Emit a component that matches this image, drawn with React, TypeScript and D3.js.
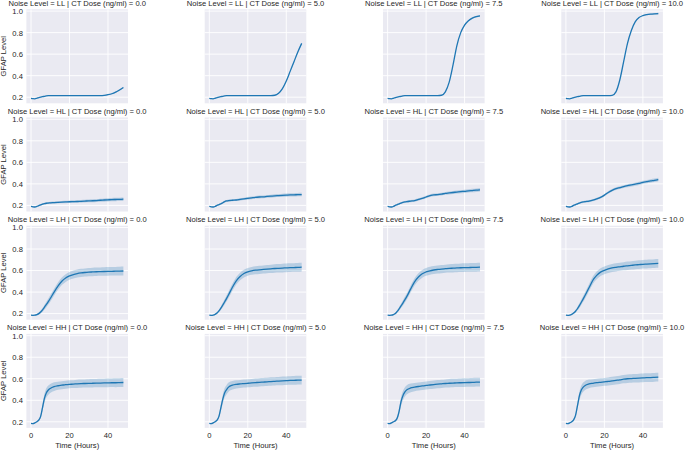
import React from "react";
import * as d3 from "d3";

const TIMES = [0,1,2,3,4,5,6,7,8,9,10,12,14,16,18,20,22,24,26,28,30,32,34,36,38,40,42,44,46,48];
const NOISE_LEVELS = ["LL", "HL", "LH", "HH"];
const DOSES = ["0.0", "5.0", "7.5", "10.0"];
const X_TICKS = [0, 20, 40];
const Y_TICKS = [0.2, 0.4, 0.6, 0.8, 1.0];

const LL_0 = [0.19,0.186,0.185,0.19,0.196,0.201,0.205,0.208,0.212,0.214,0.215, .215,.215,.215,.215,.215,.215,.215,.215,.215,.215,.215,.215,.215,.217,.223,.232,.247,.267,.29];
const LL_5 = [0.19,0.186,0.185,0.19,0.196,0.201,0.205,0.208,0.212,0.214,0.215, .215,.215,.215,.215,.215,.215,.215,.215,.215,.215,.215,.218,.237,.28,.35,.44,.53,.62,.70];
const LL_75 = [0.19,0.186,0.185,0.19,0.196,0.201,0.205,0.208,0.212,0.214,0.215, .215,.215,.215,.215,.215,.215,.215,.215,.218,.25,.34,.50,.68,.80,.87,.91,.935,.948,.955];
const LL_10 = [0.19,0.186,0.185,0.19,0.196,0.201,0.205,0.208,0.212,0.214,0.215, .215,.215,.215,.215,.215,.215,.217,.25,.36,.53,.70,.82,.90,.94,.958,.967,.972,.975,.977];

const HL_0 = [0.19,0.186,0.185,0.19,0.198,0.205,0.212,0.217,0.22,0.222,0.224, .226,.228,.23,.232,.234,.235,.236,.238,.24,.242,.243,.245,.248,.25,.252,.254,.255,.256,.258];
const HL_5 = [0.19,0.186,0.185,0.19,0.2,0.207,0.215,0.225,0.235,0.241,0.245, .248,.25,.255,.26,.265,.27,.275,.278,.28,.283,.286,.289,.291,.293,.295,.297,.298,.3,.301];
const HL_75 = [0.19,0.186,0.185,0.19,0.2,0.207,0.215,0.222,0.228,0.232,0.235, .24,.245,.255,.265,.278,.29,.298,.3,.305,.312,.316,.32,.324,.328,.331,.335,.338,.341,.345];
const HL_10 = [0.19,0.186,0.185,0.19,0.2,0.207,0.215,0.222,0.228,0.232,0.235, .24,.248,.26,.275,.295,.32,.34,.355,.365,.375,.383,.39,.397,.405,.413,.42,.427,.433,.44];

const LH_0 = [0.185,0.184,0.185,0.19,0.2,0.215,0.235,0.26,0.285,0.312,0.34, .4,.455,.5,.53,.55,.563,.572,.578,.582,.585,.587,.589,.59,.591,.592,.593,.594,.595,.596];
const LH_5 = [0.185,0.184,0.186,0.193,0.205,0.225,0.25,0.28,0.31,0.342,0.375, .445,.505,.545,.572,.588,.597,.603,.607,.61,.613,.616,.619,.621,.623,.625,.627,.628,.629,.631];
const LH_75 = [0.185,0.184,0.185,0.19,0.2,0.22,0.245,0.272,0.3,0.33,0.36, .43,.495,.54,.57,.587,.598,.605,.61,.614,.617,.62,.622,.624,.626,.627,.628,.629,.63,.631];
const LH_10 = [0.185,0.184,0.186,0.193,0.205,0.222,0.245,0.274,0.305,0.337,0.37, .44,.51,.555,.585,.602,.615,.624,.63,.635,.64,.644,.648,.652,.655,.658,.66,.662,.664,.666];

const HH_0 = [0.185,0.183,0.19,0.2,0.215,0.25,0.335,0.42,0.47,0.495,0.51, .527,.535,.54,.545,.548,.55,.553,.555,.556,.557,.558,.559,.56,.561,.562,.563,.563,.564,.565];
const HH_5 = [0.185,0.183,0.19,0.2,0.215,0.25,0.33,0.41,0.47,0.5,0.522, .54,.548,.552,.555,.558,.561,.564,.567,.569,.571,.574,.576,.578,.58,.582,.584,.585,.587,.588];
const HH_75 = [0.185,0.183,0.19,0.2,0.21,0.235,0.3,0.39,0.445,0.478,0.497, .515,.522,.528,.533,.538,.542,.546,.55,.553,.556,.558,.56,.562,.563,.564,.565,.566,.568,.569];
const HH_10 = [0.185,0.183,0.19,0.2,0.218,0.26,0.35,0.44,0.495,0.522,0.538, .552,.558,.563,.567,.571,.575,.58,.585,.59,.596,.6,.602,.604,.606,.608,.61,.611,.613,.615];

const LL_CI = [.002,.002,.002,.002,.002,.002,.002,.002,.002,.002,.002, .002,.002,.002,.002,.002,.002,.002,.002,.002,.002,.002,.002,.002,.003,.004,.005,.006,.007,.008];
const HL_CI = [.003,.003,.004,.005,.006,.007,.008,.008,.009,.009,.01, .01,.01,.011,.011,.012,.012,.012,.013,.013,.013,.014,.014,.014,.015,.015,.015,.016,.016,.016];
const LH_CI = [.003,.003,.004,.006,.009,.013,.017,.021,.025,.028,.03, .032,.034,.035,.036,.036,.037,.037,.038,.038,.038,.039,.039,.039,.04,.04,.04,.04,.041,.041];
const HH_CI = [.003,.003,.004,.006,.01,.018,.03,.04,.043,.043,.042, .04,.038,.037,.037,.037,.037,.038,.038,.038,.038,.039,.039,.039,.04,.04,.04,.041,.041,.041];

const SERIES = [
  [LL_0, LL_5, LL_75, LL_10],
  [HL_0, HL_5, HL_75, HL_10],
  [LH_0, LH_5, LH_75, LH_10],
  [HH_0, HH_5, HH_75, HH_10],
];
const ROW_CI = [LL_CI, HL_CI, LH_CI, HH_CI];

const W = 685;
const H = 450;
const PLOT_W = 101.6;
const PLOT_H = 94;
const COL_STEP = 178.3;
const ROW_STEP = 108.2;
const LEFT0 = 26.4;
const TOP0 = 9.3;
const FONT = "'Liberation Sans', Arial, sans-serif";
const TEXT = "#262626";
const BLUE = "#1f77b4";
const FS = 7.6;

export default function App() {
  const allVals = SERIES.flat(2);
  const [mn, mx] = d3.extent(allVals) as [number, number];
  const pad = (mx - mn) * 0.05;
  const tPad = (48 - 0) * 0.05;

  const x = d3.scaleLinear().domain([0 - tPad, 48 + tPad]).range([0, PLOT_W]);
  const y = d3.scaleLinear().domain([mn - pad, mx + pad]).range([PLOT_H, 0]);

  const line = d3.line<number>().x((_, i) => x(TIMES[i])).y((v) => y(v)).curve(d3.curveMonotoneX);

  const panels: React.ReactNode[] = [];
  SERIES.forEach((row, r) => {
    row.forEach((vals, c) => {
      const ci = ROW_CI[r];
      const area = d3
        .area<number>()
        .x((_, i) => x(TIMES[i]))
        .y0((v, i) => y(v - ci[i]))
        .y1((v, i) => y(v + ci[i]))
        .curve(d3.curveMonotoneX);
      const left = LEFT0 + c * COL_STEP;
      const top = TOP0 + r * ROW_STEP;
      panels.push(
        <g key={`${r}-${c}`} transform={`translate(${left},${top})`}>
          <rect x={0} y={0} width={PLOT_W} height={PLOT_H} fill="#EAEAF2" />
          {X_TICKS.map((t) => (
            <line key={`gx${t}`} x1={x(t)} x2={x(t)} y1={0} y2={PLOT_H} stroke="#fff" strokeWidth={0.9} />
          ))}
          {Y_TICKS.map((t) => (
            <line key={`gy${t}`} x1={0} x2={PLOT_W} y1={y(t)} y2={y(t)} stroke="#fff" strokeWidth={0.9} />
          ))}
          <path d={area(vals) || ""} fill={BLUE} fillOpacity={0.25} stroke="none" />
          <path d={line(vals) || ""} fill="none" stroke={BLUE} strokeWidth={1.3} />
          <text x={PLOT_W / 2} y={-3.6} textAnchor="middle" fontSize={FS} fill={TEXT} fontFamily={FONT}>
            {`Noise Level = ${NOISE_LEVELS[r]} | CT Dose (ng/ml) = ${DOSES[c]}`}
          </text>
          {c === 0 &&
            Y_TICKS.map((t) => (
              <text key={`ty${t}`} x={-3.5} y={y(t)} dy="0.38em" textAnchor="end" fontSize={FS} fill={TEXT} fontFamily={FONT}>
                {t.toFixed(1)}
              </text>
            ))}
          {c === 0 && (
            <text
              transform={`translate(${-20.5},${PLOT_H / 2}) rotate(-90)`}
              textAnchor="middle"
              fontSize={FS}
              fill={TEXT}
              fontFamily={FONT}
            >
              GFAP Level
            </text>
          )}
          {r === 3 &&
            X_TICKS.map((t) => (
              <text key={`tx${t}`} x={x(t)} y={PLOT_H + 10} textAnchor="middle" fontSize={FS} fill={TEXT} fontFamily={FONT}>
                {t}
              </text>
            ))}
          {r === 3 && (
            <text x={PLOT_W / 2} y={PLOT_H + 20.5} textAnchor="middle" fontSize={FS} fill={TEXT} fontFamily={FONT}>
              Time (Hours)
            </text>
          )}
        </g>
      );
    });
  });

  return (
    <svg
      width={W}
      height={H}
      style={{ position: "absolute", left: 0, top: 0, background: "#fff" }}
      xmlns="http://www.w3.org/2000/svg"
    >
      <rect width={W} height={H} fill="#fff" />
      {panels}
    </svg>
  );
}
